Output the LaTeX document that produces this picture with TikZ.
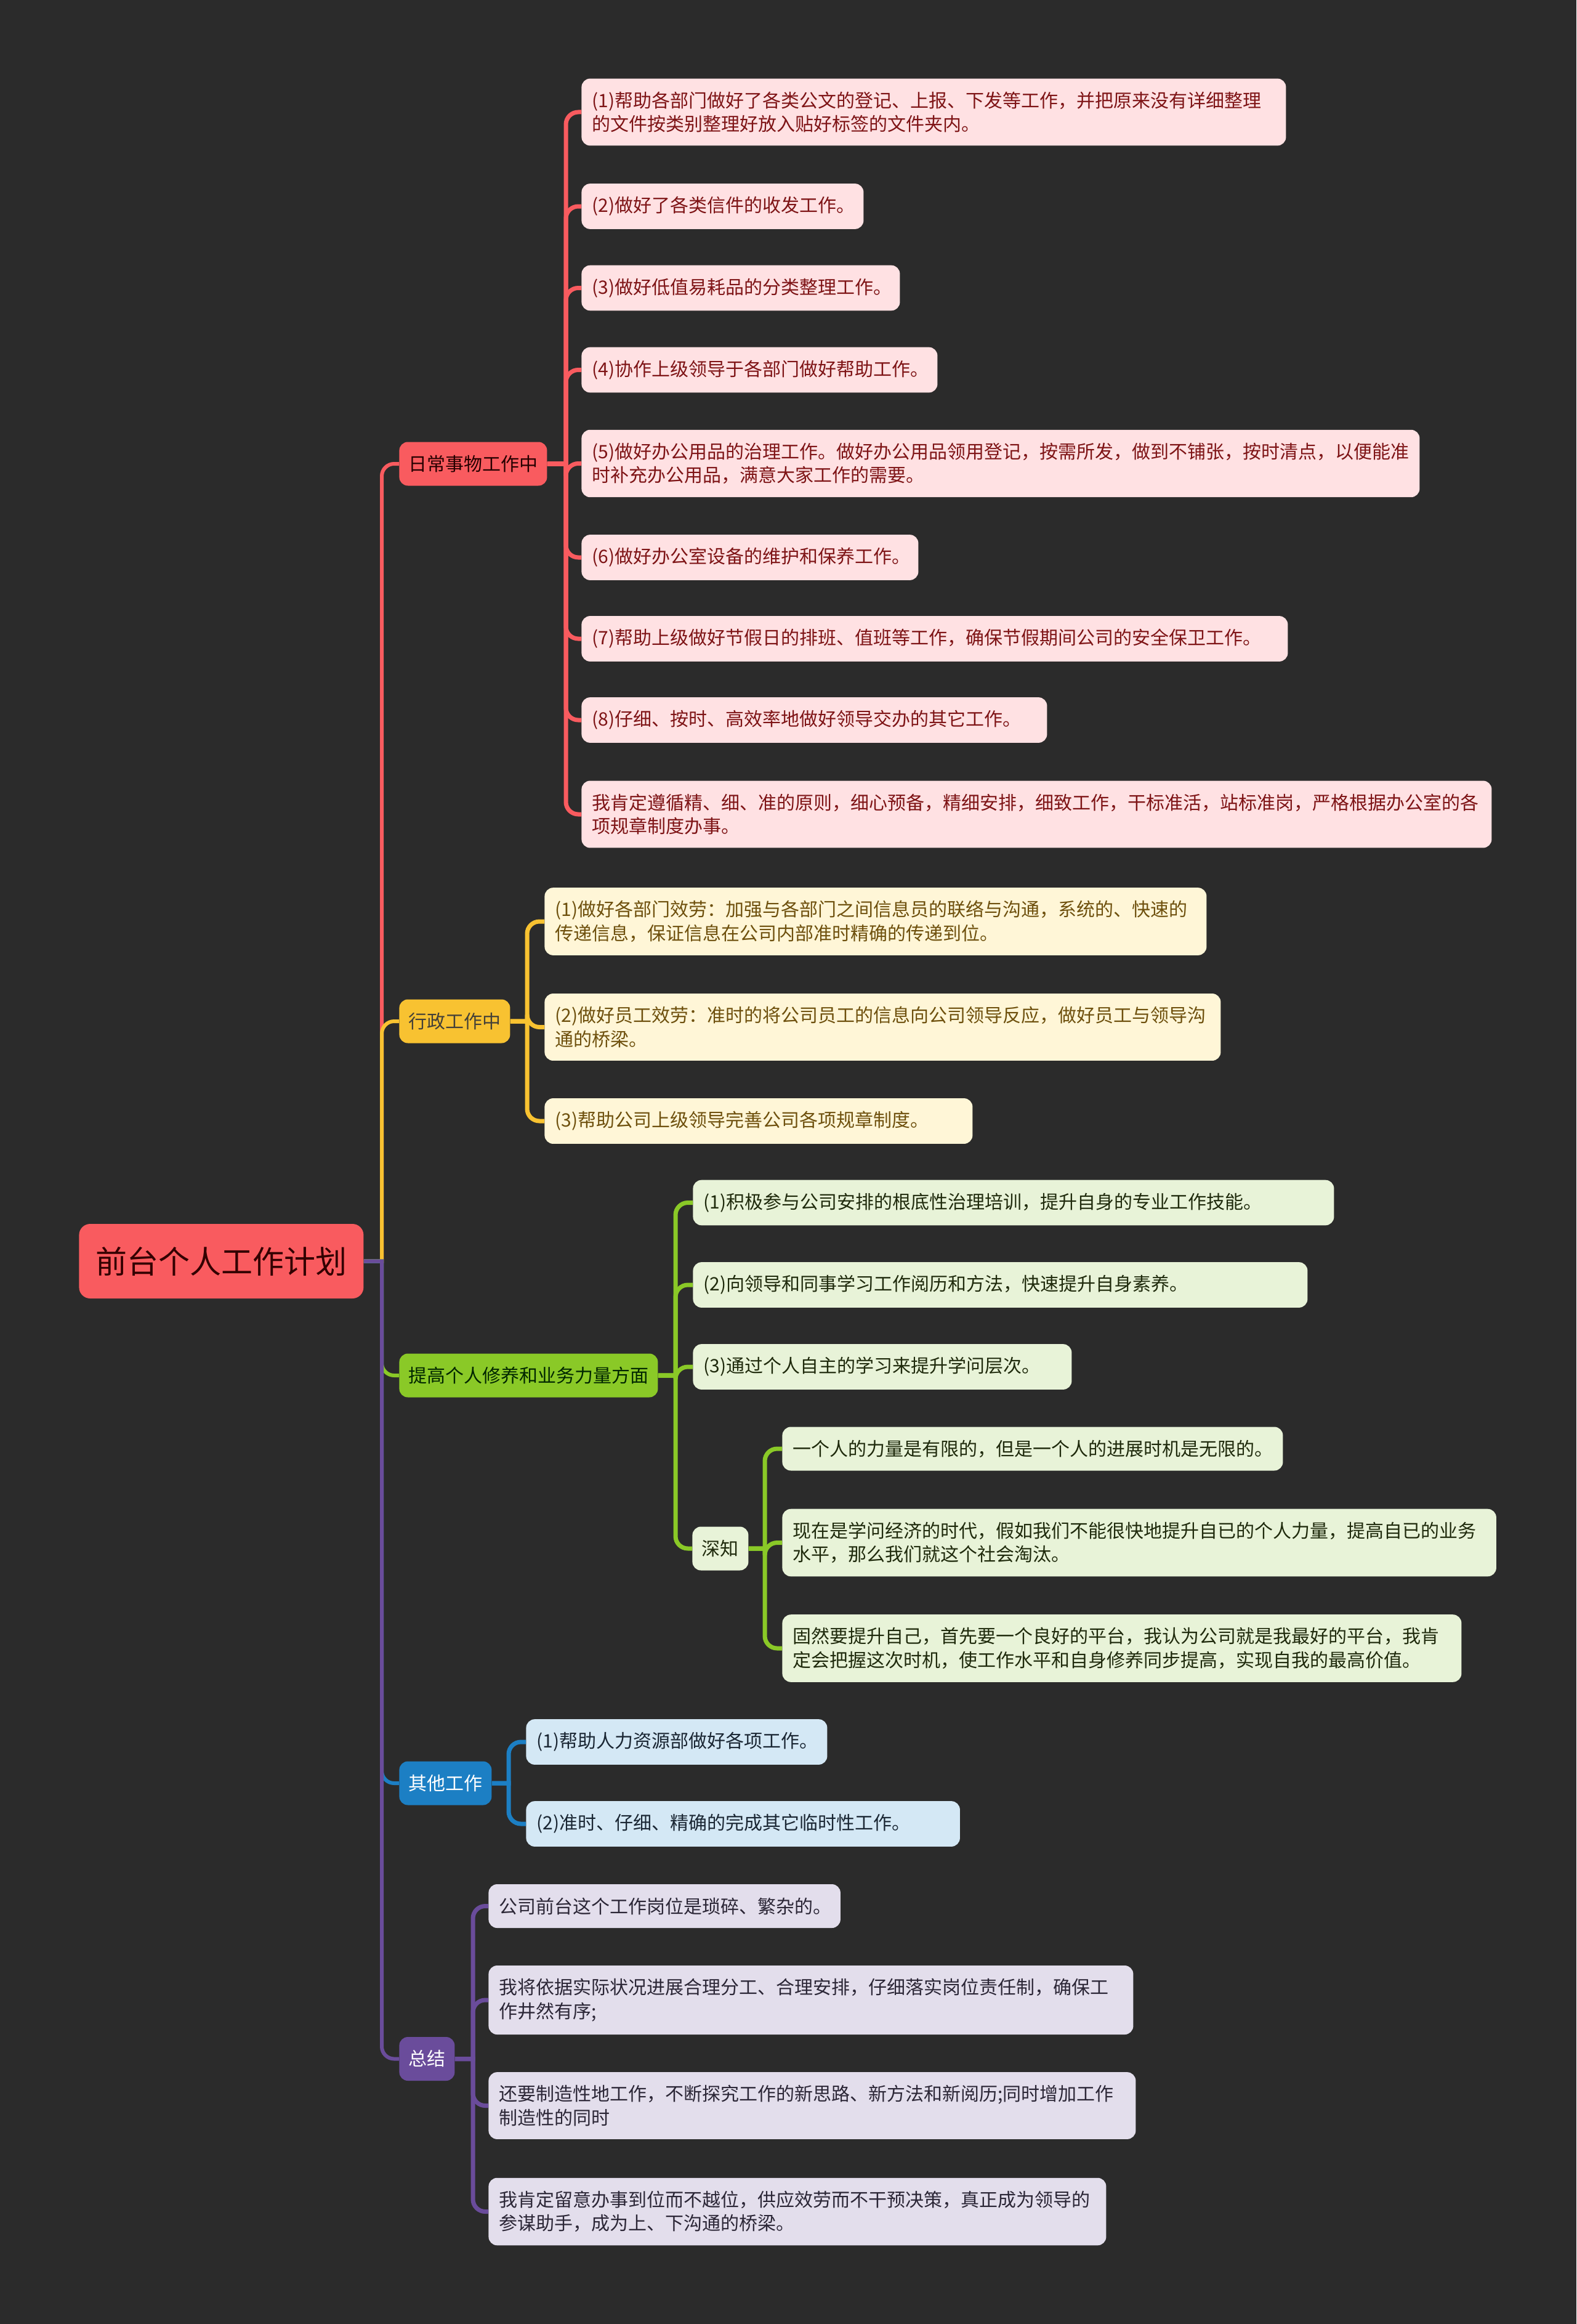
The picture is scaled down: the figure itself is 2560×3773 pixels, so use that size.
\documentclass[tikz,border=0pt]{standalone}
\usepackage{fontspec}
\setmainfont{Noto Sans CJK SC}

\definecolor{fondo}{HTML}{2B2B2B}
\definecolor{rojo}{HTML}{F95B5F}
\definecolor{rojo_claro}{HTML}{FFE1E3}
\definecolor{rojo_texto}{HTML}{7E1416}
\definecolor{amarillo}{HTML}{F8C231}
\definecolor{amarillo_claro}{HTML}{FFF6D7}
\definecolor{amarillo_texto}{HTML}{6E500D}
\definecolor{verde}{HTML}{8AC927}
\definecolor{verde_claro}{HTML}{E8F3D8}
\definecolor{verde_texto}{HTML}{1F2A0C}
\definecolor{azul}{HTML}{1C7FC4}
\definecolor{azul_claro}{HTML}{D4E8F5}
\definecolor{azul_texto}{HTML}{1A2633}
\definecolor{morado}{HTML}{6A4C9B}
\definecolor{morado_claro}{HTML}{E3DEEC}
\definecolor{morado_texto}{HTML}{2B2636}

\begin{document}
\begin{tikzpicture}[x=0.5pt, y=-0.5pt]
  \tikzset{
    root_node/.style={anchor=west, fill=rojo, text=black!80!red, rounded corners=9pt, inner xsep=13.5pt, minimum height=60.5pt, font=\fontsize{25.5}{30}\selectfont},
    main_node/.style={anchor=west, rounded corners=7pt, inner xsep=7.5pt, minimum height=35.5pt, font=\fontsize{15}{18}\selectfont},
    leaf/.style={anchor=west, rounded corners=7pt, inner xsep=8.5pt, inner ysep=10.6pt, minimum height=35.5pt, text width=#1, align=left, font=\fontsize{15}{19.25}\selectfont},
    red_leaf/.style={leaf=#1, fill=rojo_claro, text=rojo_texto},
    yellow_leaf/.style={leaf=#1, fill=amarillo_claro, text=amarillo_texto},
    green_leaf/.style={leaf=#1, fill=verde_claro, text=verde_texto},
    blue_leaf/.style={leaf=#1, fill=azul_claro, text=azul_texto},
    purple_leaf/.style={leaf=#1, fill=morado_claro, text=morado_texto},
    trunk_line/.style={line width=3pt},
    leaf_line/.style={line width=3.5pt}
  }

  % Fondo oscuro y bounding box
  \fill[fondo] (0,0) rectangle (2560,3773);
  \useasboundingbox (0,0) rectangle (2560,3773);

  % Nodo central
  \node[root_node] (raiz) at (128,2047.5) {前台个人工作计划};
  \coordinate (raiz_b) at (620,2047.5);

  % Ramas principales
  \node[main_node, fill=rojo, text=black!85!red] (rutina) at (648,753) {日常事物工作中};
  \node[main_node, fill=amarillo, text=black!85!yellow] (admin) at (648,1658) {行政工作中};
  \node[main_node, fill=verde, text=black!85!green] (mejora) at (648,2233) {提高个人修养和业务力量方面};
  \node[main_node, fill=azul, text=white] (otros) at (648,2895) {其他工作};
  \node[main_node, fill=morado, text=white] (resumen) at (648,3342.5) {总结};

  % Hojas de "日常事物工作中"
  \coordinate (rutina_b) at (919,753);
  \node[red_leaf=555pt] (rutina_1) at (944,182) {(1)帮助各部门做好了各类公文的登记、上报、下发等工作，并把原来没有详细整理\\的文件按类别整理好放入贴好标签的文件夹内。};
  \node[red_leaf=212pt] (rutina_2) at (944,335) {(2)做好了各类信件的收发工作。};
  \node[red_leaf=241.5pt] (rutina_3) at (944,467.5) {(3)做好低值易耗品的分类整理工作。};
  \node[red_leaf=272pt] (rutina_4) at (944,600.5) {(4)协作上级领导于各部门做好帮助工作。};
  \node[red_leaf=663.5pt] (rutina_5) at (944,752.5) {(5)做好办公用品的治理工作。做好办公用品领用登记，按需所发，做到不铺张，按时清点，以便能准\\时补充办公用品，满意大家工作的需要。};
  \node[red_leaf=256.5pt] (rutina_6) at (944,905) {(6)做好办公室设备的维护和保养工作。};
  \node[red_leaf=556.5pt] (rutina_7) at (944,1037) {(7)帮助上级做好节假日的排班、值班等工作，确保节假期间公司的安全保卫工作。};
  \node[red_leaf=361pt] (rutina_8) at (944,1169) {(8)仔细、按时、高效率地做好领导交办的其它工作。};
  \node[red_leaf=722pt] (rutina_9) at (944,1322) {我肯定遵循精、细、准的原则，细心预备，精细安排，细致工作，干标准活，站标准岗，严格根据办公室的各\\项规章制度办事。};

  % Hojas de "行政工作中"
  \coordinate (admin_b) at (856,1658);
  \node[yellow_leaf=520.5pt] (admin_1) at (884,1496) {(1)做好各部门效劳：加强与各部门之间信息员的联络与沟通，系统的、快速的\\传递信息，保证信息在公司内部准时精确的传递到位。};
  \node[yellow_leaf=532pt] (admin_2) at (884,1667.5) {(2)做好员工效劳：准时的将公司员工的信息向公司领导反应，做好员工与领导沟\\通的桥梁。};
  \node[yellow_leaf=330.5pt] (admin_3) at (884,1820) {(3)帮助公司上级领导完善公司各项规章制度。};

  % Hojas de "提高个人修养和业务力量方面"
  \coordinate (mejora_b) at (1097,2233);
  \node[green_leaf=503.5pt] (mejora_1) at (1125,1952.5) {(1)积极参与公司安排的根底性治理培训，提升自身的专业工作技能。};
  \node[green_leaf=482pt] (mejora_2) at (1125,2086) {(2)向领导和同事学习工作阅历和方法，快速提升自身素养。};
  \node[green_leaf=290.5pt] (mejora_3) at (1125,2219) {(3)通过个人自主的学习来提升学问层次。};
  \node[green_leaf=30pt, inner xsep=7.75pt] (saber) at (1124,2514) {深知};

  % Hojas de "深知"
  \coordinate (saber_b) at (1242,2514);
  \node[green_leaf=389.5pt] (saber_1) at (1270,2352) {一个人的力量是有限的，但是一个人的进展时机是无限的。};
  \node[green_leaf=562.75pt] (saber_2) at (1270,2504.5) {现在是学问经济的时代，假如我们不能很快地提升自已的个人力量，提高自已的业务\\水平，那么我们就这个社会淘汰。};
  \node[green_leaf=534.5pt] (saber_3) at (1270,2676) {固然要提升自己，首先要一个良好的平台，我认为公司就是我最好的平台，我肯\\定会把握这次时机，使工作水平和自身修养同步提高，实现自我的最高价值。};

  % Hojas de "其他工作"
  \coordinate (otros_b) at (826,2895);
  \node[blue_leaf=227.5pt] (otros_1) at (854,2828) {(1)帮助人力资源部做好各项工作。};
  \node[blue_leaf=335.25pt] (otros_2) at (854,2961) {(2)准时、仔细、精确的完成其它临时性工作。};

  % Hojas de "总结"
  \coordinate (resumen_b) at (768,3342.5);
  \node[purple_leaf=268.75pt] (resumen_1) at (793,3094.5) {公司前台这个工作岗位是琐碎、繁杂的。};
  \node[purple_leaf=506.5pt] (resumen_2) at (793,3247) {我将依据实际状况进展合理分工、合理安排，仔细落实岗位责任制，确保工\\作井然有序;};
  \node[purple_leaf=508.5pt] (resumen_3) at (793,3418.5) {还要制造性地工作，不断探究工作的新思路、新方法和新阅历;同时增加工作\\制造性的同时};
  \node[purple_leaf=484.5pt] (resumen_4) at (793,3590.5) {我肯定留意办事到位而不越位，供应效劳而不干预决策，真正成为领导的\\参谋助手，成为上、下沟通的桥梁。};

  % Conexiones del nodo central (morado al final, queda encima)
  \draw[trunk_line, rojo] (raiz.east) -- (raiz_b) [rounded corners=10pt] |- (rutina.west);
  \draw[trunk_line, amarillo] (raiz.east) -- (raiz_b) [rounded corners=10pt] |- (admin.west);
  \draw[trunk_line, verde] (raiz.east) -- (raiz_b) [rounded corners=10pt] |- (mejora.west);
  \draw[trunk_line, azul] (raiz.east) -- (raiz_b) [rounded corners=10pt] |- (otros.west);
  \draw[trunk_line, morado] (raiz.east) -- (raiz_b) [rounded corners=10pt] |- (resumen.west);

  % Conexiones rojas
  \draw[leaf_line, rojo] (rutina.east) -- (rutina_b) [rounded corners=10pt] |- (rutina_1.west);
  \draw[leaf_line, rojo] (rutina.east) -- (rutina_b) [rounded corners=10pt] |- (rutina_2.west);
  \draw[leaf_line, rojo] (rutina.east) -- (rutina_b) [rounded corners=10pt] |- (rutina_3.west);
  \draw[leaf_line, rojo] (rutina.east) -- (rutina_b) [rounded corners=10pt] |- (rutina_4.west);
  \draw[leaf_line, rojo] (rutina.east) -- (rutina_b) [rounded corners=10pt] |- (rutina_5.west);
  \draw[leaf_line, rojo] (rutina.east) -- (rutina_b) [rounded corners=10pt] |- (rutina_6.west);
  \draw[leaf_line, rojo] (rutina.east) -- (rutina_b) [rounded corners=10pt] |- (rutina_7.west);
  \draw[leaf_line, rojo] (rutina.east) -- (rutina_b) [rounded corners=10pt] |- (rutina_8.west);
  \draw[leaf_line, rojo] (rutina.east) -- (rutina_b) [rounded corners=10pt] |- (rutina_9.west);

  % Conexiones amarillas
  \draw[leaf_line, amarillo] (admin.east) -- (admin_b) [rounded corners=10pt] |- (admin_1.west);
  \draw[leaf_line, amarillo] (admin.east) -- (admin_b) [rounded corners=10pt] |- (admin_2.west);
  \draw[leaf_line, amarillo] (admin.east) -- (admin_b) [rounded corners=10pt] |- (admin_3.west);

  % Conexiones verdes
  \draw[leaf_line, verde] (mejora.east) -- (mejora_b) [rounded corners=10pt] |- (mejora_1.west);
  \draw[leaf_line, verde] (mejora.east) -- (mejora_b) [rounded corners=10pt] |- (mejora_2.west);
  \draw[leaf_line, verde] (mejora.east) -- (mejora_b) [rounded corners=10pt] |- (mejora_3.west);
  \draw[leaf_line, verde] (mejora.east) -- (mejora_b) [rounded corners=10pt] |- (saber.west);
  \draw[leaf_line, verde] (saber.east) -- (saber_b) [rounded corners=10pt] |- (saber_1.west);
  \draw[leaf_line, verde] (saber.east) -- (saber_b) [rounded corners=10pt] |- (saber_2.west);
  \draw[leaf_line, verde] (saber.east) -- (saber_b) [rounded corners=10pt] |- (saber_3.west);

  % Conexiones azules
  \draw[leaf_line, azul] (otros.east) -- (otros_b) [rounded corners=10pt] |- (otros_1.west);
  \draw[leaf_line, azul] (otros.east) -- (otros_b) [rounded corners=10pt] |- (otros_2.west);

  % Conexiones moradas
  \draw[leaf_line, morado] (resumen.east) -- (resumen_b) [rounded corners=10pt] |- (resumen_1.west);
  \draw[leaf_line, morado] (resumen.east) -- (resumen_b) [rounded corners=10pt] |- (resumen_2.west);
  \draw[leaf_line, morado] (resumen.east) -- (resumen_b) [rounded corners=10pt] |- (resumen_3.west);
  \draw[leaf_line, morado] (resumen.east) -- (resumen_b) [rounded corners=10pt] |- (resumen_4.west);
\end{tikzpicture}
\end{document}
